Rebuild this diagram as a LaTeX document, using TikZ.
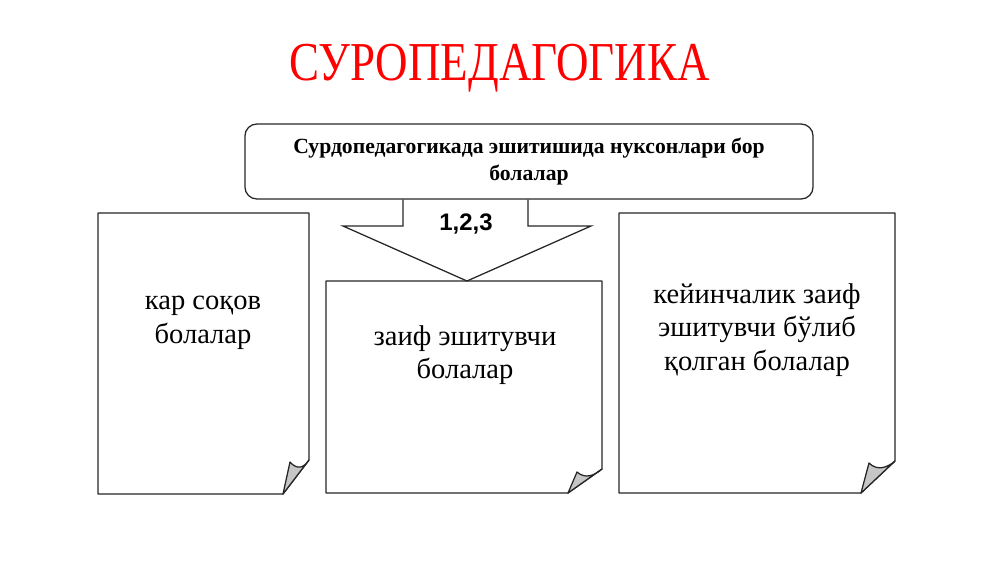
\documentclass[tikz,border=0pt]{standalone}
\usepackage{fontspec}
\setmainfont{Liberation Serif}
\newfontfamily\arialfont{Liberation Sans}
\usepackage{tikz}

\begin{document}
\begin{tikzpicture}[x=0.025cm,y=-0.025cm,line width=0.9pt,
  pagetext/.style={align=center,inner sep=0pt,font=\fontsize{20.3}{24}\selectfont},
  pageline/.style={draw=black!85,fill=white,line join=round},
  foldline/.style={draw=black!85,fill=gray!45,line join=round}]
  \useasboundingbox (0,0) rectangle (1000,562);

  \node[text=red,anchor=base,inner sep=0pt,font=\fontsize{39}{44}\selectfont] (title) at (499.5,80) {\scalebox{0.82}[1]{СУРОПЕДАГОГИКА}};

  \node[draw=black!85,rounded corners=0.3cm,minimum width=14.2cm,minimum height=1.875cm,align=center,
        font=\bfseries\fontsize{15.4}{18.6}\selectfont] (topbox) at (529,161.5)
        {Сурдопедагогикада эшитишида нуксонлари бор\\болалар};

  % pages
  \draw[pageline] (98,213) -- (309,213) -- (309,460) -- (283,494) -- (98,494) -- cycle;
  \draw[foldline] (283,494) -- (290,462) .. controls (297,470) and (304,468) .. (309,460) -- cycle;
  \draw[pageline] (326,281) -- (602,281) -- (602,469) -- (568,493) -- (326,493) -- cycle;
  \draw[foldline] (568,493) -- (577,472) .. controls (585,479) and (594,476) .. (602,469) -- cycle;
  \draw[pageline] (619,213) -- (895,213) -- (895,461) -- (861,493) -- (619,493) -- cycle;
  \draw[foldline] (861,493) -- (869,463) .. controls (877,471) and (887,468) .. (895,461) -- cycle;
  \coordinate (midtop) at (467,281);

  \node[pagetext] (deaf) at (203,323) {кар соқов\\болалар};
  \node[pagetext] (weak) at (465,355) {заиф эшитувчи\\болалар};
  \node[pagetext] (later) at (757,330) {кейинчалик заиф\\эшитувчи бўлиб\\қолган болалар};

  % pointer
  \draw[black!85,line join=miter] (topbox.south -| 403,0) |- (343,226) -- (midtop) -- (591,226) -| (topbox.south -| 528,0);
  \node[font=\arialfont\bfseries\fontsize{17}{20}\selectfont] (nums) at (466,224) {1,2,3};
\end{tikzpicture}
\end{document}
